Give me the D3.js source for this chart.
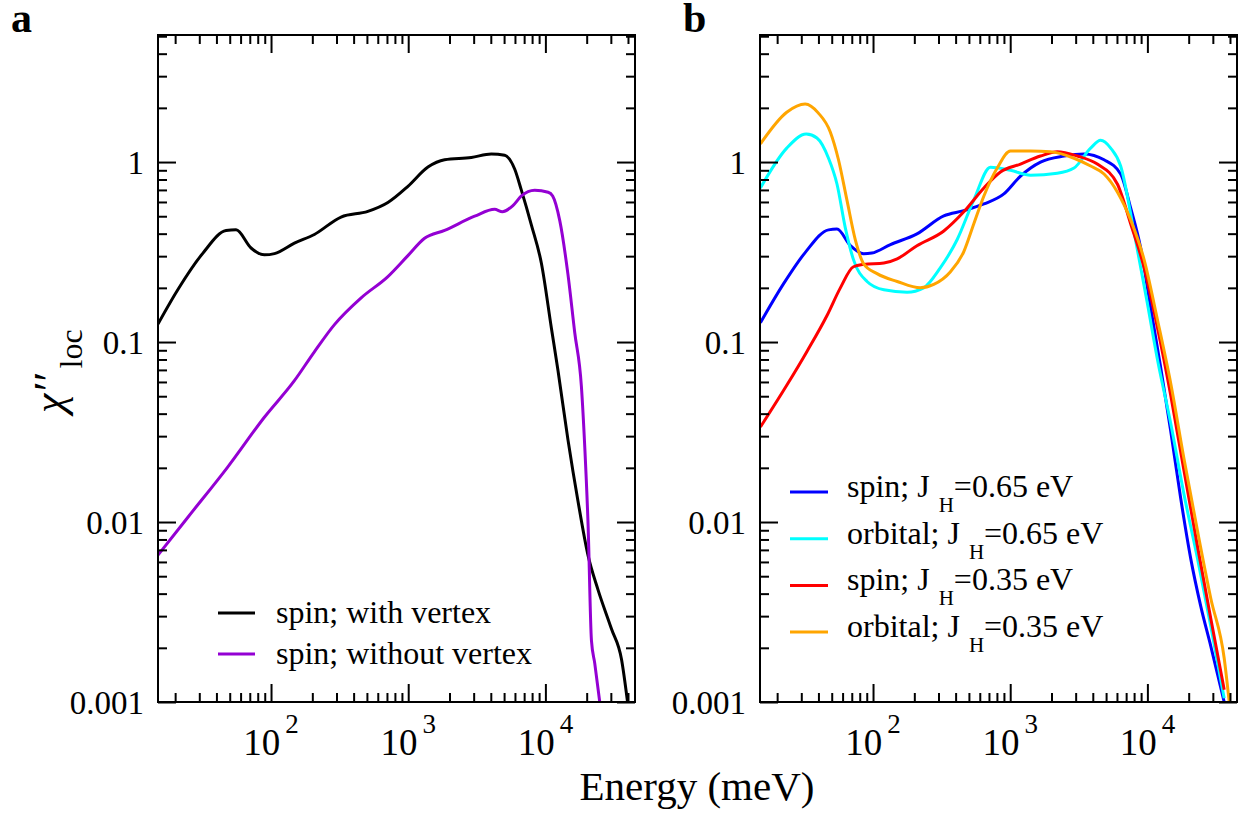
<!DOCTYPE html>
<html>
<head>
<meta charset="utf-8">
<script src="https://cdn.jsdelivr.net/npm/d3@7"></script>
<style>
  body { margin: 0; background: #fff; }
  text { font-family: "Liberation Serif", "Times New Roman", serif; fill: #000; }
</style>
</head>
<body>
<svg width="1250" height="818"></svg>
<script>
// energies in meV, chi'' values
var spinWithVertex = [
  [15,0.126],[20.8,0.194],[31.7,0.31],[47,0.416],[55.6,0.42],[71.5,0.333],[89.4,0.305],
  [106,0.31],[148,0.354],[207,0.396],[324,0.495],[508,0.532],[711,0.596],[995,0.733],
  [1393,0.938],[1842,1.03],[2884,1.06],[4034,1.11],[5048,1.09],[5970,0.915],[6680,0.698],
  [7900,0.448],[9350,0.274],[11070,0.119],[12370,0.069],[14620,0.0285],[17300,0.013],
  [20480,0.0065],[24200,0.0042],[30300,0.00255],[35900,0.00172],[39700,0.001]
];
var spinWithoutVertex = [
  [14.5,0.00634],[24.7,0.0106],[48.3,0.0202],[89.4,0.0382],[148,0.061],[207,0.0883],
  [290,0.125],[454,0.176],[711,0.231],[995,0.302],[1316,0.377],[1842,0.417],[3050,0.5],
  [4266,0.546],[4860,0.53],[5800,0.573],[6680,0.648],[8360,0.698],[10470,0.68],[11300,0.648],
  [12740,0.471],[14620,0.236],[16360,0.113],[18300,0.0567],[19380,0.0258],[20480,0.0096],
  [21660,0.0022],[22900,0.00164],[24900,0.001]
];
var spinJ065 = [
  [15.1,0.128],[22.3,0.211],[32,0.314],[47.4,0.42],[54.6,0.424],[68.4,0.343],[85.5,0.309],
  [98,0.312],[134,0.348],[209,0.399],[328,0.502],[459,0.537],[643,0.585],[899,0.665],
  [1189,0.836],[1663,1.0],[2464,1.08],[3448,1.11],[4830,1.03],[6383,0.858],[7550,0.556],
  [8930,0.334],[10570,0.155],[12500,0.0723],[14790,0.032],[17500,0.0135],[20700,0.00626],
  [24500,0.0034],[29000,0.00204],[36300,0.001]
];
var orbitalJ065 = [
  [15.1,0.718],[23.5,1.195],[32.6,1.43],[39,1.36],[47.4,1.05],[54.6,0.755],[62.8,0.431],
  [72,0.287],[90.4,0.217],[120,0.195],[177,0.189],[234,0.2],[310,0.259],[410,0.37],
  [543,0.616],[718,0.936],[1004,0.9],[1406,0.845],[2203,0.867],[2917,0.926],[3857,1.195],
  [4560,1.32],[5400,1.195],[6383,0.95],[7990,0.41],[10000,0.164],[11840,0.08],[14790,0.0354],
  [18500,0.0142],[23200,0.00626],[29000,0.00263],[36300,0.00105]
];
var spinJ035 = [
  [15.1,0.0337],[23.5,0.0575],[33,0.0887],[46.1,0.14],[57.8,0.2],[72,0.262],[85.5,0.27],
  [120,0.275],[150,0.29],[209,0.343],[328,0.414],[459,0.529],[643,0.718],[849,0.881],
  [1189,0.975],[1663,1.08],[2203,1.14],[3083,1.08],[4315,0.975],[6040,0.755],[7550,0.454],
  [9460,0.259],[11840,0.12],[14790,0.0506],[18500,0.0192],[23200,0.0073],[29000,0.0029],
  [36300,0.00117]
];
var orbitalJ035 = [
  [15.1,1.26],[23.5,1.89],[32,2.1],[40,1.87],[48.8,1.47],[56,1.03],[64.5,0.616],[74.3,0.37],
  [85.5,0.272],[107,0.24],[150,0.217],[221,0.2],[277,0.209],[367,0.246],[459,0.318],
  [543,0.454],[643,0.648],[804,0.926],[1004,1.15],[1406,1.15],[1968,1.14],[2917,1.05],
  [3857,0.95],[4830,0.858],[6040,0.682],[7550,0.477],[9460,0.287],[11840,0.133],
  [14790,0.059],[18500,0.0224],[23200,0.0089],[29000,0.00376],[36300,0.00175],[39500,0.001]
];

var xMajor = [100, 1000, 10000];
var yMajor = [0.001, 0.01, 0.1, 1];
var yMajorLabels = ["0.001", "0.01", "0.1", "1"];

var legendA = [
  {name: "spin; with vertex", color: "#000000"},
  {name: "spin; without vertex", color: "#9400d3"}
];
var legendB = [
  {pre: "spin; J", sub: "H", post: "=0.65 eV", color: "#0000ff"},
  {pre: "orbital; J", sub: "H", post: "=0.65 eV", color: "#00ffff"},
  {pre: "spin; J", sub: "H", post: "=0.35 eV", color: "#ff0000"},
  {pre: "orbital; J", sub: "H", post: "=0.35 eV", color: "#ffa500"}
];

var svg = d3.select("svg");
var plotTop = 35, plotBottom = 702, pw = 477;

var y = d3.scaleLog().domain([0.001, 5.08]).range([plotBottom, plotTop]);

// minor tick values
var xMinor = [];
[10, 100, 1000, 10000].forEach(function(d) {
  for (var k = 2; k <= 9; k++) { if (d * k >= 15 && d * k <= 45000) xMinor.push(d * k); }
});
var yMinor = [];
[0.001, 0.01, 0.1, 1].forEach(function(d) {
  for (var k = 2; k <= 9; k++) { if (d * k <= 5.08) yMinor.push(d * k); }
});

function drawPanel(left, series, letter, letterX) {
  var x = d3.scaleLog().domain([15, 45000]).range([left, left + pw]);
  var g = svg.append("g");

  var clipId = "clip" + letter;
  g.append("clipPath").attr("id", clipId)
    .append("rect").attr("x", left).attr("y", plotTop).attr("width", pw).attr("height", plotBottom - plotTop);

  var line = d3.line()
      .x(function(d) { return x(d[0]); })
      .y(function(d) { return y(d[1]); })
      .curve(d3.curveMonotoneX);

  g.append("g").attr("clip-path", "url(#" + clipId + ")")
    .selectAll("path")
    .data(series)
    .enter().append("path")
      .attr("d", function(d) { return line(d.data); })
      .attr("fill", "none")
      .attr("stroke", function(d) { return d.color; })
      .attr("stroke-width", 3)
      .attr("stroke-linejoin", "round");

  // ticks on all four sides, pointing inward
  function ticks(axis, vals, size, transform) {
    var a = g.append("g").attr("transform", transform)
      .call(axis.tickValues(vals).tickSize(-size).tickFormat(""));
    a.select(".domain").remove();
    a.selectAll("line").attr("stroke", "#000").attr("stroke-width", 2);
  }
  ticks(d3.axisBottom(x), xMajor, 18, "translate(0," + plotBottom + ")");
  ticks(d3.axisBottom(x), xMinor, 9, "translate(0," + plotBottom + ")");
  ticks(d3.axisTop(x), xMajor, 18, "translate(0," + plotTop + ")");
  ticks(d3.axisTop(x), xMinor, 9, "translate(0," + plotTop + ")");
  ticks(d3.axisLeft(y), yMajor, 18, "translate(" + left + ",0)");
  ticks(d3.axisLeft(y), yMinor, 9, "translate(" + left + ",0)");
  ticks(d3.axisRight(y), yMajor, 18, "translate(" + (left + pw) + ",0)");
  ticks(d3.axisRight(y), yMinor, 9, "translate(" + (left + pw) + ",0)");

  g.append("rect")
    .attr("x", left).attr("y", plotTop).attr("width", pw).attr("height", plotBottom - plotTop)
    .attr("fill", "none").attr("stroke", "#000").attr("stroke-width", 2);

  // y tick labels
  g.selectAll(".ylab").data(yMajor).enter().append("text")
    .attr("x", left - 14)
    .attr("y", function(d) { return y(d); })
    .attr("dy", "0.35em")
    .attr("text-anchor", "end")
    .attr("font-size", 33)
    .text(function(d, i) { return yMajorLabels[i]; });

  // x tick labels 10^n
  var xl = g.selectAll(".xlab").data(xMajor).enter().append("text")
    .attr("x", function(d) { return x(d); })
    .attr("y", 755)
    .attr("text-anchor", "middle")
    .attr("font-size", 37);
  xl.append("tspan").text("10");
  xl.append("tspan").attr("dx", 5).attr("dy", -22).attr("font-size", 27)
    .text(function(d) { return Math.round(Math.log10(d)); });

  svg.append("text").attr("x", letterX).attr("y", 32)
    .attr("font-size", 42).attr("font-weight", "bold").text(letter);

  return g;
}

var ga = drawPanel(158, [
  {data: spinWithVertex, color: "#000000"},
  {data: spinWithoutVertex, color: "#9400d3"}
], "a", 11);

var gb = drawPanel(760, [
  {data: spinJ065, color: "#0000ff"},
  {data: orbitalJ065, color: "#00ffff"},
  {data: spinJ035, color: "#ff0000"},
  {data: orbitalJ035, color: "#ffa500"}
], "b", 683);

// legend a
var la = ga.selectAll(".lega").data(legendA).enter().append("g")
  .attr("transform", function(d, i) { return "translate(0," + (613 + i * 41) + ")"; });
la.append("line").attr("x1", 218).attr("x2", 255)
  .attr("stroke", function(d) { return d.color; }).attr("stroke-width", 3);
la.append("text").attr("x", 276).attr("y", 10).attr("font-size", 32)
  .text(function(d) { return d.name; });

// legend b
var lb = gb.selectAll(".legb").data(legendB).enter().append("g")
  .attr("transform", function(d, i) { return "translate(0," + (492 + i * 46.7) + ")"; });
lb.append("line").attr("x1", 790).attr("x2", 828)
  .attr("stroke", function(d) { return d.color; }).attr("stroke-width", 3);
var lbt = lb.append("text").attr("x", 847).attr("y", 5).attr("font-size", 32);
lbt.append("tspan").text(function(d) { return d.pre; });
lbt.append("tspan").attr("dx", 9).attr("dy", 15).attr("font-size", 21).text(function(d) { return d.sub; });
lbt.append("tspan").attr("dy", -15).text(function(d) { return d.post; });

// axis titles
svg.append("text").attr("x", 697).attr("y", 800)
  .attr("text-anchor", "middle").attr("font-size", 41).text("Energy (meV)");

var yt = svg.append("text").attr("transform", "translate(64,413) rotate(-90)")
  .attr("font-size", 44);
yt.append("tspan").attr("font-style", "italic").text("\u03c7\u2032\u2032");
yt.append("tspan").attr("dx", 6).attr("dy", 18).attr("font-size", 32).text("loc");
</script>
</body>
</html>
